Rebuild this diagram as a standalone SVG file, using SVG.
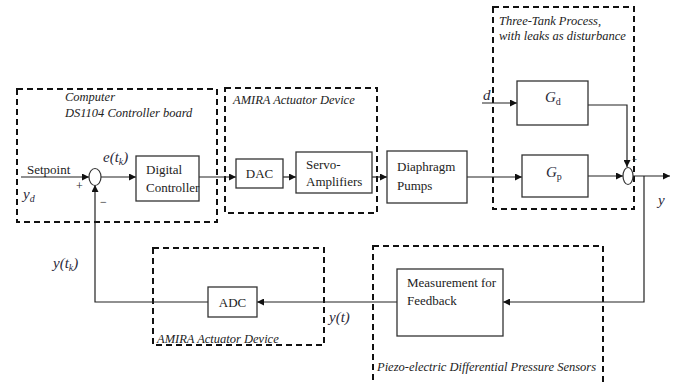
<svg xmlns="http://www.w3.org/2000/svg" width="678" height="383" viewBox="0 0 678 383" font-family="Liberation Serif, Times New Roman, DejaVu Serif, serif">
  <defs>
    <marker id="arr" viewBox="0 0 10 10" refX="10" refY="5" markerWidth="8" markerHeight="7" markerUnits="userSpaceOnUse" orient="auto">
      <path d="M0,0 L10,5 L0,10 z" fill="#111"/>
    </marker>
    <style>
      .blk { fill: #fff; stroke: #333; stroke-width: 1.3; }
      .grp { fill: none; stroke: #111; stroke-width: 2; stroke-dasharray: 6 4; }
      .sum { fill: #fff; stroke: #333; stroke-width: 1.2; }
      .wire { fill: none; stroke: #222; stroke-width: 1.2; }
      .arw { marker-end: url(#arr); }
      .lbl { font-size: 13px; fill: #222; }
      .cap { font-size: 12.5px; font-style: italic; fill: #222; }
      .math { font-size: 15px; font-style: italic; fill: #2a2a3a; }
      .sub { font-size: 10px; }
      .sgn { font-size: 12px; fill: #222; }
    </style>
  </defs>

  <rect width="678" height="383" fill="#fff"/>

  <!-- dashed grouping frames -->
  <g id="grp-computer">
    <rect class="grp" x="17" y="89" width="200" height="133"/>
    <text class="cap" font-family="Liberation Serif" x="65" y="101">Computer</text>
    <text class="cap" font-family="Liberation Serif" x="65" y="117">DS1104 Controller board</text>
  </g>
  <g id="grp-amira-act">
    <rect class="grp" x="225" y="88" width="152" height="125"/>
    <text class="cap" font-family="Liberation Serif" x="233" y="104">AMIRA Actuator Device</text>
  </g>
  <g id="grp-threetank">
    <rect class="grp" x="493" y="7" width="141" height="202"/>
    <text class="cap" font-family="Liberation Serif" x="499" y="25">Three-Tank Process,</text>
    <text class="cap" font-family="Liberation Serif" x="499" y="40">with leaks as disturbance</text>
  </g>
  <g id="grp-amira-adc">
    <rect class="grp" x="153" y="248" width="171" height="97"/>
    <text class="cap" font-family="Liberation Serif" x="157" y="343">AMIRA Actuator Device</text>
  </g>
  <g id="grp-sensors">
    <rect class="grp" x="373" y="246" width="230" height="142"/>
    <text class="cap" font-family="Liberation Serif" x="377" y="371">Piezo-electric Differential Pressure Sensors</text>
  </g>

  <!-- connectors -->
  <g id="connectors">
    <line class="wire arw" x1="21" y1="177" x2="89" y2="177"/>
    <line class="wire arw" x1="101" y1="177" x2="136" y2="177"/>
    <line class="wire arw" x1="199" y1="177" x2="236" y2="177"/>
    <line class="wire arw" x1="283" y1="177" x2="296" y2="177"/>
    <line class="wire arw" x1="372" y1="177" x2="387" y2="177"/>
    <line class="wire arw" x1="467" y1="177" x2="522" y2="177"/>
    <line class="wire arw" x1="482" y1="103" x2="517" y2="103"/>
    <polyline class="wire arw" points="588,105 627,105 627,167"/>
    <line class="wire arw" x1="588" y1="176" x2="623" y2="176"/>
    <line class="wire arw" x1="633" y1="176" x2="670" y2="176"/>
    <polyline class="wire arw" points="644,176 644,302 503,302"/>
    <line class="wire arw" x1="397" y1="302" x2="257" y2="302"/>
    <polyline class="wire arw" points="208,302 95,302 95,185"/>
  </g>

  <!-- summing junctions -->
  <g id="sum-error">
    <ellipse class="sum" cx="95" cy="177" rx="6" ry="8.5"/>
    <text class="sgn" font-family="Liberation Serif" x="76" y="190">+</text>
    <text class="sgn" font-family="Liberation Serif" x="100" y="206">−</text>
  </g>
  <g id="sum-output">
    <ellipse class="sum" cx="628" cy="176" rx="5" ry="8.5"/>
    <text class="sgn" font-family="Liberation Serif" x="632" y="162" style="font-size:9px">+</text>
  </g>

  <!-- blocks -->
  <g id="digital-controller">
    <rect class="blk" x="136" y="156" width="63" height="45"/>
    <text class="lbl" font-family="Liberation Serif" x="146" y="174">Digital</text>
    <text class="lbl" font-family="Liberation Serif" x="146" y="192">Controller</text>
  </g>
  <g id="dac">
    <rect class="blk" x="236" y="159" width="47" height="29"/>
    <text class="lbl" font-family="Liberation Serif" x="259.5" y="178" text-anchor="middle">DAC</text>
  </g>
  <g id="servo-amplifiers">
    <rect class="blk" x="296" y="152" width="76" height="41"/>
    <text class="lbl" font-family="Liberation Serif" x="306" y="169">Servo-</text>
    <text class="lbl" font-family="Liberation Serif" x="306" y="186">Amplifiers</text>
  </g>
  <g id="diaphragm-pumps">
    <rect class="blk" x="387" y="151" width="80" height="52"/>
    <text class="lbl" font-family="Liberation Serif" x="397" y="171">Diaphragm</text>
    <text class="lbl" font-family="Liberation Serif" x="397" y="190">Pumps</text>
  </g>
  <g id="gd">
    <rect class="blk" x="517" y="81" width="71" height="44"/>
    <text class="math" font-family="Liberation Serif" x="545" y="102">G<tspan class="sub" dy="3" font-style="normal">d</tspan></text>
  </g>
  <g id="gp">
    <rect class="blk" x="522" y="155" width="66" height="42"/>
    <text class="math" font-family="Liberation Serif" x="546" y="177">G<tspan class="sub" dy="3" font-style="normal">p</tspan></text>
  </g>
  <g id="measurement">
    <rect class="blk" x="397" y="269" width="106" height="67"/>
    <text class="lbl" font-family="Liberation Serif" x="407" y="287">Measurement for</text>
    <text class="lbl" font-family="Liberation Serif" x="407" y="305">Feedback</text>
  </g>
  <g id="adc">
    <rect class="blk" x="208" y="287" width="49" height="30"/>
    <text class="lbl" font-family="Liberation Serif" x="232.5" y="307" text-anchor="middle">ADC</text>
  </g>

  <!-- signal labels -->
  <g id="signals" font-family="Liberation Serif">
    <text class="lbl" x="27" y="174">Setpoint</text>
    <text class="math" x="23" y="199">y<tspan class="sub" dy="3">d</tspan></text>
    <text class="math" x="103" y="162">e(t<tspan class="sub" dy="3">k</tspan><tspan dy="-3">)</tspan></text>
    <text class="math" x="483" y="100">d</text>
    <text class="math" x="658" y="205">y</text>
    <text class="math" x="53" y="268">y(t<tspan class="sub" dy="3">k</tspan><tspan dy="-3">)</tspan></text>
    <text class="math" x="329" y="322">y(t)</text>
  </g>
</svg>
